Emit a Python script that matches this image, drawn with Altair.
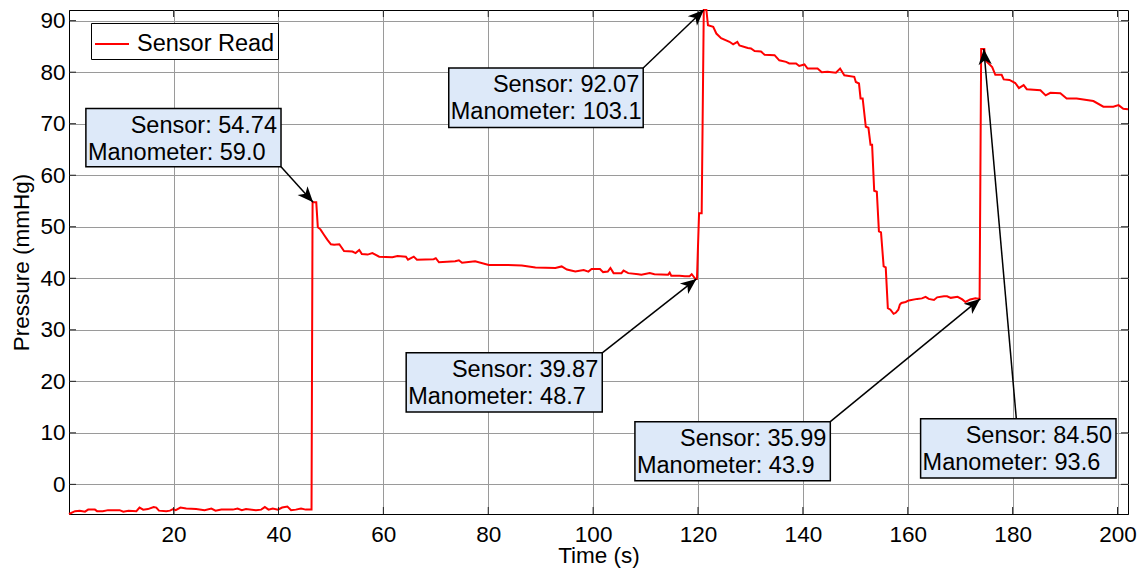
import math
import altair as alt
import pandas as pd

# ---------------- data ----------------
time_s = [
    0.05, 1.2, 2.1, 3.1, 3.7, 5.0, 5.4, 6.5, 7.5, 9.7, 10.4, 11.4, 12.9, 13.5, 14.2, 15.1,
    16.2, 16.7, 17.2, 18.6, 19.3, 19.9, 20.4, 21.3, 22.4, 24.3, 25.9, 27.2, 28.0, 29.1,
    31.3, 32.2, 33.0, 33.8, 35.7, 36.7, 37.4, 38.1, 38.9, 39.9, 40.7, 41.7, 42.4, 43.3,
    44.3, 45.2, 46.3, 46.5, 47.2, 47.5, 48.0, 48.7, 49.3, 50.0, 50.6, 51.6, 52.5, 54.1,
    54.7, 55.4, 55.9, 57.0, 57.9, 59.2, 61.7, 62.7, 64.3, 64.7, 65.8, 66.4, 69.6, 70.0,
    70.6, 73.7, 74.4, 75.0, 77.5, 80.1, 82.6, 86.4, 89.0, 92.8, 94.0, 95.0, 96.6, 98.2,
    99.1, 99.7, 101.3, 101.9, 102.8, 103.3, 103.9, 105.4, 105.8, 106.7, 108.6, 109.2,
    110.8, 111.7, 114.3, 114.6, 114.9, 116.5, 117.5, 118.4, 118.8, 119.5, 119.8,
    120.2, 120.7, 121.1, 121.6, 121.9, 122.9, 123.5, 124.4, 126.0, 126.7, 127.5, 127.9,
    129.5, 130.1, 130.8, 132.0, 132.7, 134.6, 135.5, 136.8, 137.4, 138.7, 139.3, 140.3,
    140.9, 142.8, 143.6, 144.7, 146.3, 147.1, 147.9, 149.8, 150.1, 150.7, 151.0, 151.4,
    152.0, 152.5, 152.9, 153.2, 153.6, 154.1, 154.5, 154.9, 155.4, 155.8, 156.2, 156.7,
    157.3, 157.7, 158.2, 158.5, 158.8, 159.6, 160.2, 161.8, 162.7, 163.4, 164.0, 165.0,
    165.6, 166.9, 167.5, 168.2, 169.5, 170.4, 171.0, 171.9, 172.9, 173.7,
    174.0, 174.6, 174.8, 176.1, 176.7, 177.9, 178.3, 179.4, 180.5, 181.2, 182.1, 182.7,
    185.3, 186.3, 187.2, 189.1, 190.3, 192.2, 195.4, 197.3, 199.2, 200.2, 201.1, 202.0,
]
pressure = [
    -5.75, -5.2, -5.1, -5.3, -4.9, -4.9, -5.2, -5.2, -5.0, -5.0, -5.3, -5.1, -5.2, -4.5, -4.9, -4.8,
    -4.4, -4.5, -5.1, -5.2, -5.1, -4.8, -5.0, -4.5, -4.7, -4.8, -5.0, -4.7, -5.1, -4.9,
    -4.9, -4.7, -5.0, -4.8, -5.0, -4.9, -4.4, -4.9, -4.7, -4.9, -4.5, -4.3, -5.0, -4.9,
    -4.7, -4.9, -4.9, 54.74, 54.74, 49.9, 49.5, 48.4, 47.5, 46.6, 46.5, 46.6, 45.3, 45.2,
    44.9, 45.5, 44.7, 44.6, 44.9, 44.2, 44.1, 44.3, 44.2, 43.6, 44.2, 43.6, 43.7, 43.9,
    43.1, 43.3, 43.5, 43.0, 43.3, 42.6, 42.6, 42.5, 42.1, 42.0, 42.3, 41.7, 41.3, 41.6,
    41.3, 41.8, 41.8, 41.2, 41.3, 42.0, 41.0, 41.0, 41.5, 41.0, 40.8, 40.7,
    41.0, 40.8, 40.7, 41.1, 40.5, 40.5, 40.4, 40.4, 40.8, 39.9, 39.87,
    52.6, 52.6, 92.07, 92.07, 89.1, 88.8, 87.5, 86.6, 85.9, 85.4, 85.9, 85.2,
    84.7, 84.6, 84.1, 84.0, 83.4, 83.3, 82.3, 82.0, 81.7, 81.7, 81.2, 81.5,
    80.7, 80.7, 80.0, 80.1, 79.9, 80.7, 79.4, 79.1, 78.1, 77.8, 74.9, 74.9,
    69.4, 69.2, 65.9, 65.9, 57.0, 56.8, 49.1, 48.9, 42.3, 42.1, 34.2, 33.9,
    33.1, 33.3, 33.9, 34.9, 35.2, 35.4, 35.7, 36.0, 36.1, 36.4, 36.0, 35.8,
    36.3, 36.5, 36.5, 36.2, 36.4, 35.9, 35.4, 35.9, 36.1, 35.99,
    84.5, 84.5, 82.3, 81.0, 79.5, 79.5, 78.6, 78.5, 77.9, 76.9, 77.5, 76.7,
    76.5, 75.5, 76.0, 75.9, 74.9, 74.9, 74.4, 73.3, 73.3, 73.6, 72.9, 72.8,
]
series_name = "Sensor Read"

x_ticks = [20, 40, 60, 80, 100, 120, 140, 160, 180, 200]
y_ticks = [0, 10, 20, 30, 40, 50, 60, 70, 80, 90]
x_domain = [0.05, 202.0]
y_domain = [-5.75, 92.07]

# annotation boxes (data units)
box_left = [3.27, 72.47, 64.35, 107.97, 162.45]
box_right = [40.48, 109.55, 101.74, 145.23, 199.71]
box_top = [72.94, 80.80, 25.53, 12.17, 12.75]
box_bottom = [61.66, 69.27, 14.05, 0.70, 1.22]
sensor_labels = ["Sensor: 54.74", "Sensor: 92.07", "Sensor: 39.87", "Sensor: 35.99", "Sensor: 84.50"]
manometer_labels = ["Manometer: 59.0", "Manometer: 103.1", "Manometer: 48.7", "Manometer: 43.9", "Manometer: 93.6"]
arrow_x_start = [40.48, 109.55, 101.74, 145.23, 180.7]
arrow_y_start = [61.66, 80.80, 25.53, 12.17, 12.75]
arrow_x_end = [46.6, 121.1, 119.7, 173.8, 174.5]
arrow_y_end = [54.74, 92.07, 39.87, 35.99, 84.5]

# ---------------- layout ----------------
W, H = 1059, 504
FONT = "Liberation Sans"
FS = 22.5      # axis text
FS_ANN = 23.5  # boxes and legend
TICK = 7       # inward tick length (px)

sx = W / (x_domain[1] - x_domain[0])
sy = H / (y_domain[1] - y_domain[0])
angles = []
for x1, y1, x2, y2 in zip(arrow_x_start, arrow_y_start, arrow_x_end, arrow_y_end):
    dx = (x2 - x1) * sx
    dy = -(y2 - y1) * sy
    angles.append(math.degrees(math.atan2(dx, -dy)) % 360)

line_df = pd.DataFrame({"t": time_s, "p": pressure, "series": series_name})
ann_df = pd.DataFrame({
    "l": box_left, "r": box_right, "top": box_top, "bot": box_bottom,
    "sensor": sensor_labels, "mano": manometer_labels,
    "x1": arrow_x_start, "y1": arrow_y_start, "x2": arrow_x_end, "y2": arrow_y_end,
    "ang": angles,
})
xt_df = pd.DataFrame({"v": x_ticks})
yt_df = pd.DataFrame({"v": y_ticks})

xscale = alt.Scale(domain=x_domain, nice=False, zero=False)
yscale = alt.Scale(domain=y_domain, nice=False, zero=False)

xaxis = alt.Axis(values=x_ticks, title="Time (s)", grid=True,
                 titleY=48, titleBaseline="alphabetic")
yaxis = alt.Axis(values=y_ticks, title="Pressure (mmHg)", grid=True)

line = alt.Chart(line_df).mark_line(strokeWidth=2, interpolate="linear").encode(
    x=alt.X("t:Q", scale=xscale, axis=xaxis),
    y=alt.Y("p:Q", scale=yscale, axis=yaxis),
    color=alt.Color(
        "series:N",
        scale=alt.Scale(domain=[series_name], range=["#ff0000"]),
        legend=alt.Legend(
            title=None, orient="none", legendX=22, legendY=13,
            symbolType="stroke", symbolSize=1156, symbolStrokeWidth=2,
            labelFont=FONT, labelFontSize=FS_ANN, labelColor="black", labelOffset=7,
            strokeColor="black", fillColor="white", padding=3,
        ),
    ),
)

# inward tick marks on all four sides
tick_style = dict(color="#222222", strokeWidth=1)
ticks_bottom = alt.Chart(xt_df).mark_rule(**tick_style).encode(
    x=alt.X("v:Q", scale=xscale), y=alt.value(H), y2=alt.value(H - TICK))
ticks_top = alt.Chart(xt_df).mark_rule(**tick_style).encode(
    x=alt.X("v:Q", scale=xscale), y=alt.value(0), y2=alt.value(TICK))
ticks_left = alt.Chart(yt_df).mark_rule(**tick_style).encode(
    y=alt.Y("v:Q", scale=yscale), x=alt.value(0), x2=alt.value(TICK))
ticks_right = alt.Chart(yt_df).mark_rule(**tick_style).encode(
    y=alt.Y("v:Q", scale=yscale), x=alt.value(W), x2=alt.value(W - TICK))

base = alt.Chart(ann_df)
arrows = base.mark_rule(color="black", strokeWidth=1.5).encode(
    x=alt.X("x1:Q", scale=xscale), y=alt.Y("y1:Q", scale=yscale),
    x2="x2:Q", y2="y2:Q",
)
heads = base.mark_point(
    shape="M0,0L0.42,1L0,0.72L-0.42,1Z", size=1000, filled=True,
    color="black", opacity=1, strokeWidth=0,
).encode(
    x=alt.X("x2:Q", scale=xscale), y=alt.Y("y2:Q", scale=yscale),
    angle=alt.Angle("ang:Q", scale=None),
)
boxes = base.mark_rect(fill="#dde9f9", stroke="black", strokeWidth=1.5).encode(
    x=alt.X("l:Q", scale=xscale), x2="r:Q",
    y=alt.Y("top:Q", scale=yscale), y2="bot:Q",
)
sensor_txt = base.mark_text(
    align="right", baseline="alphabetic", dx=-4, dy=24,
    font=FONT, fontSize=FS_ANN, color="black",
).encode(x=alt.X("r:Q", scale=xscale), y=alt.Y("top:Q", scale=yscale), text="sensor:N")
mano_txt = base.mark_text(
    align="left", baseline="alphabetic", dx=2, dy=51,
    font=FONT, fontSize=FS_ANN, color="black",
).encode(x=alt.X("l:Q", scale=xscale), y=alt.Y("top:Q", scale=yscale), text="mano:N")

chart = alt.layer(
    line, ticks_bottom, ticks_top, ticks_left, ticks_right,
    arrows, heads, boxes, sensor_txt, mano_txt,
).properties(
    width=W, height=H,
    autosize=alt.AutoSizeParams(type="none"),
    padding={"left": 61, "top": 2, "right": 9, "bottom": 54},
).configure_view(
    stroke="black", strokeWidth=1,
).configure_axis(
    labelFont=FONT, labelFontSize=FS, labelColor="black",
    titleFont=FONT, titleFontSize=FS, titleFontWeight="normal", titleColor="black",
    gridColor="#9a9a9a", gridWidth=1, gridOpacity=1,
    domainColor="black", domainWidth=1,
    tickSize=0,
).configure_axisX(
    labelPadding=9,
).configure_axisY(
    labelPadding=4, titlePadding=6,
)

chart.save("out.html", embed_options={"renderer": "svg", "actions": False})
